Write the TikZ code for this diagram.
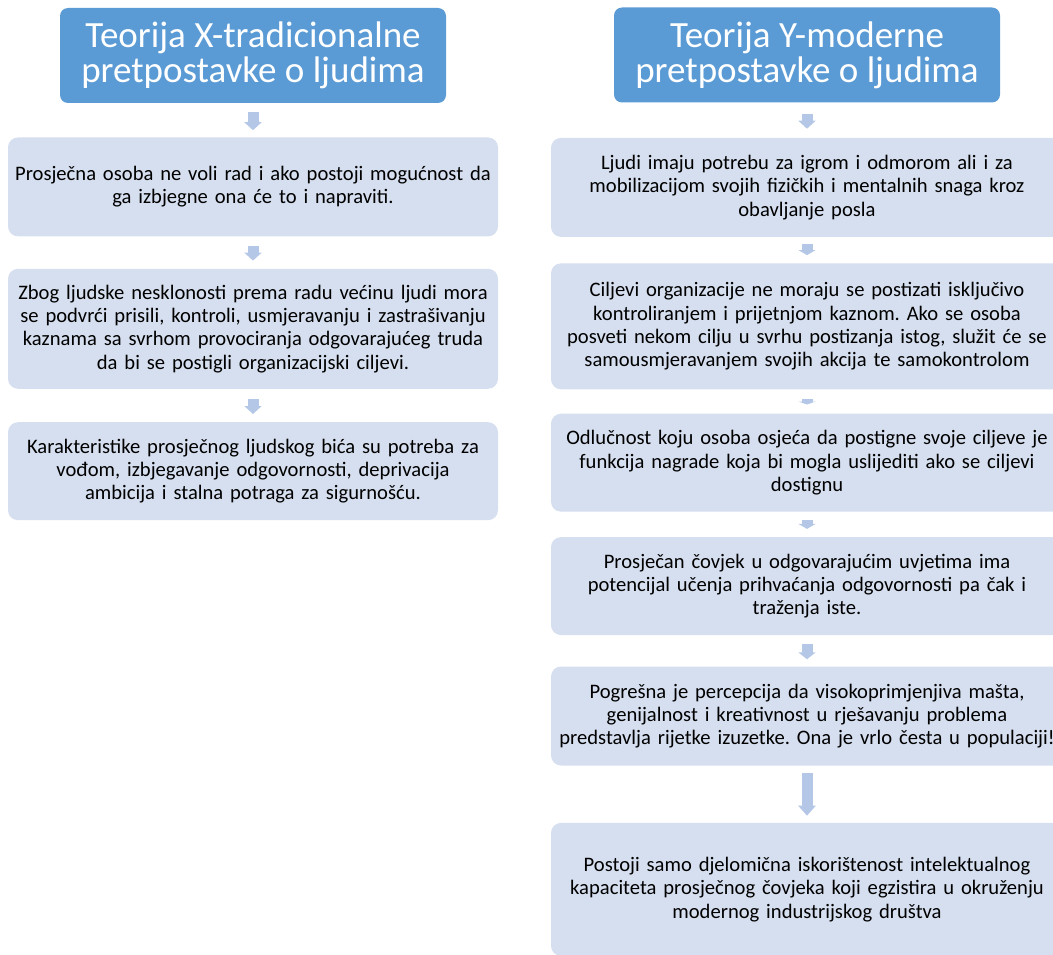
\documentclass[tikz,border=0pt]{standalone}
\usepackage{fontspec}
\setmainfont{Carlito}
\usetikzlibrary{positioning, arrows.meta}

\definecolor{headblue}{HTML}{5B9BD5}
\definecolor{boxblue}{HTML}{D6DFEF}
\definecolor{arrowblue}{HTML}{B4C7E7}

\begin{document}
\frenchspacing
\begin{tikzpicture}[
    header/.style={rectangle, rounded corners=8pt, fill=headblue, text=white, minimum width=386pt, minimum height=95pt, align=center, inner sep=2pt, font=\fontsize{37}{35}\selectfont},
    item/.style={rectangle, rounded corners=10pt, fill=boxblue, align=center, inner sep=3pt, font=\fontsize{20.6}{23.3}\selectfont},
    leftitem/.style={item, text width=484pt, minimum height=#1},
    rightitem/.style={item, text width=506pt, minimum height=#1},
    flow/.style={draw=arrowblue, line width=11pt, -{Triangle[width=17pt, length=#1]}},
    flow/.default=8pt
]

   \clip (0,0) rectangle (1053pt,-955pt);

   % Headers
   \node[header] (hx) at (253pt,-55.5pt) {Teorija X-tradicionalne\\pretpostavke o ljudima};
   \node[header] (hy) at (807pt,-55pt) {Teorija Y-moderne\\pretpostavke o ljudima};

   % Theory X
   \node[leftitem=99pt]  (x1) [below=34pt of hx] {Prosječna osoba ne voli rad i ako postoji mogućnost da\\ga izbjegne ona će to i napraviti.};
   \node[leftitem=120pt] (x2) [below=32pt of x1] {Zbog ljudske nesklonosti prema radu većinu ljudi mora\\se podvrći prisili, kontroli, usmjeravanju i zastrašivanju\\kaznama sa svrhom provociranja odgovarajućeg truda\\da bi se postigli organizacijski ciljevi.};
   \node[leftitem=98pt]  (x3) [below=33pt of x2] {Karakteristike prosječnog ljudskog bića su potreba za\\vođom, izbjegavanje odgovornosti, deprivacija\\ambicija i stalna potraga za sigurnošću.};

   % Theory Y
   \node[rightitem=99pt]  (y1) [below=35pt of hy] {Ljudi imaju potrebu za igrom i odmorom ali i za\\mobilizacijom svojih fizičkih i mentalnih snaga kroz\\obavljanje posla};
   \node[rightitem=126pt] (y2) [below=26pt of y1] {Ciljevi organizacije ne moraju se postizati isključivo\\kontroliranjem i prijetnjom kaznom. Ako se osoba\\posveti nekom cilju u svrhu postizanja istog, služit će se\\samousmjeravanjem svojih akcija te samokontrolom};
   \node[rightitem=98pt]  (y3) [below=24pt of y2] {Odlučnost koju osoba osjeća da postigne svoje ciljeve je\\funkcija nagrade koja bi mogla uslijediti ako se ciljevi\\dostignu};
   \node[rightitem=98pt]  (y4) [below=25pt of y3] {Prosječan čovjek u odgovarajućim uvjetima ima\\potencijal učenja prihvaćanja odgovornosti pa čak i\\traženja iste.};
   \node[rightitem=99pt]  (y5) [below=31pt of y4] {Pogrešna je percepcija da visokoprimjenjiva mašta,\\genijalnost i kreativnost u rješavanju problema\\predstavlja rijetke izuzetke. Ona je vrlo česta u populaciji!};
   \node[rightitem=133pt] (y6) [below=57pt of y5] {Postoji samo djelomična iskorištenost intelektualnog\\kapaciteta prosječnog čovjeka koji egzistira u okruženju\\modernog industrijskog društva};

   % Arrows, theory X
   \draw[flow, shorten <=9pt, shorten >=7pt] (hx.south) -- (x1.north);
   \draw[flow, shorten <=9pt, shorten >=8pt] (x1.south) -- (x2.north);
   \draw[flow, shorten <=10pt, shorten >=8pt] (x2.south) -- (x3.north);

   % Arrows, theory Y
   \draw[flow, shorten <=11pt, shorten >=9pt] (hy.south) -- (y1.north);
   \draw[flow=5pt, shorten <=7pt, shorten >=8pt] (y1.south) -- (y2.north);
   \draw[flow=3pt, shorten <=9pt, shorten >=9pt] (y2.south) -- (y3.north);
   \draw[flow=5pt, shorten <=8pt, shorten >=8pt] (y3.south) -- (y4.north);
   \draw[flow=7pt, shorten <=9pt, shorten >=7pt] (y4.south) -- (y5.north);
   \draw[flow=10pt, shorten <=7pt, shorten >=7pt] (y5.south) -- (y6.north);

\end{tikzpicture}
\end{document}
